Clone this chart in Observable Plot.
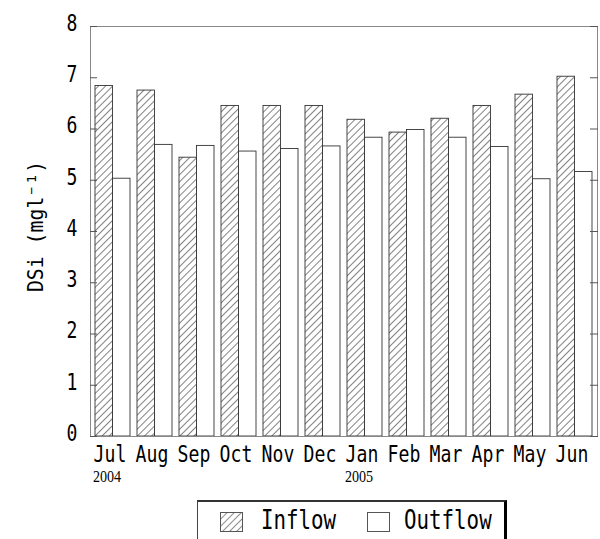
<!DOCTYPE html>
<html><head><meta charset="utf-8">
<script src="https://cdn.jsdelivr.net/npm/d3@7"></script>
<script src="https://cdn.jsdelivr.net/npm/@observablehq/plot@0.6"></script>
<style>
body{margin:0;background:#fff;}
#wrap{position:relative;width:600px;height:539px;overflow:hidden;font-family:"DejaVu Sans Mono",monospace;}
#legend{position:absolute;left:197px;top:500px;width:310px;height:60px;border:1px solid #444;border-top:2px solid #333;border-right:3px solid #000;box-sizing:border-box;background:#fff;}
.sw{position:absolute;top:10px;}
.lt{position:absolute;top:3px;font-size:26px;line-height:30px;color:#000;transform:scaleX(0.8);transform-origin:left center;white-space:pre;}
</style></head>
<body>
<div id="wrap"><div id="chart"></div>
<div id="legend">
 <svg class="sw" style="left:22px" width="23" height="20"><defs><pattern id="lh" patternUnits="userSpaceOnUse" width="5" height="5" patternTransform="rotate(45)"><line x1="0" y1="0" x2="0" y2="5" stroke="#222" stroke-width="1"/></pattern></defs><rect x="0.5" y="0.5" width="22" height="19" fill="url(#lh)" stroke="#555"/></svg>
 <div class="lt" style="left:63px">Inflow</div>
 <svg class="sw" style="left:169px" width="23" height="20"><rect x="0.5" y="0.5" width="22" height="19" fill="#fff" stroke="#555"/></svg>
 <div class="lt" style="left:206px">Outflow</div>
</div>
</div>
<script>
const months = ["Jul","Aug","Sep","Oct","Nov","Dec","Jan","Feb","Mar","Apr","May","Jun"];
const inflow = [6.84,6.75,5.44,6.45,6.45,6.45,6.18,5.93,6.20,6.45,6.67,7.02];
const outflow = [5.03,5.69,5.67,5.56,5.61,5.66,5.83,5.98,5.83,5.65,5.02,5.16];
const yTicks = [0,1,2,3,4,5,6,7,8];
const years = [{month:"Jul", label:"2004"},{month:"Jan", label:"2005"}];
const yLabel = "DSi\u2002(mgl⁻¹)";

const W = 600, H = 492, ML = 90, MR = 3, MT = 26, MB = 56;
const pIn = 0.17, pOut = 0.08;
const step = (W - ML - MR) / (months.length - pIn + 2 * pOut);
const bw = step * (1 - pIn);

const inData = months.map((m,i)=>({month:m, value:inflow[i]}));
const outData = months.map((m,i)=>({month:m, value:outflow[i]}));
const mono = '"DejaVu Sans Mono",monospace';
const serif = '"Liberation Serif","DejaVu Serif",serif';

const chart = Plot.plot({
  width: W, height: H,
  marginLeft: ML, marginRight: MR, marginTop: MT, marginBottom: MB,
  style: {fontFamily: mono, background: "#fff", color: "#000"},
  x: {domain: months, paddingInner: pIn, paddingOuter: pOut, label: null},
  y: {domain: [0, 8], label: null},
  marks: [
    Plot.barY(inData, {x: "month", y: "value", fill: "url(#hatch)", stroke: "#333", strokeWidth: 0.9, insetRight: bw/2}),
    Plot.barY(outData, {x: "month", y: "value", fill: "#fff", stroke: "#333", strokeWidth: 0.9, insetLeft: bw/2}),
    Plot.frame({stroke: "#888", strokeWidth: 1}),
    Plot.axisY({anchor: "left", ticks: yTicks, tickSize: -7, tickFormat: () => "", stroke: "#555", label: null}),
    Plot.axisY({anchor: "right", ticks: yTicks, tickSize: -8, tickFormat: () => "", stroke: "#555", label: null}),
    Plot.axisY({anchor: "left", ticks: yTicks, tickSize: 0, tickPadding: 13, fontSize: 23, dy: -3, label: null}),
    Plot.axisX({anchor: "bottom", tickSize: 0, tickPadding: 9, fontSize: 23, dx: -3, label: null}),
    Plot.text(years, {x: "month", text: "label", frameAnchor: "bottom", dy: 45, dx: -6, fontSize: 16, fontFamily: serif}),
    Plot.text([yLabel], {text: d => d, frameAnchor: "left", textAnchor: "middle", rotate: -90, dx: -55, dy: -5, fontSize: 22})
  ]
});
const ns = "http://www.w3.org/2000/svg";
const defs = document.createElementNS(ns, "defs");
defs.innerHTML = '<pattern id="hatch" patternUnits="userSpaceOnUse" width="5" height="5" patternTransform="rotate(45)"><line x1="0" y1="0" x2="0" y2="5" stroke="#1a1a1a" stroke-width="1.1"/></pattern>';
chart.insertBefore(defs, chart.firstChild);
document.getElementById("chart").appendChild(chart);
// condense glyphs to imitate the narrow gothic face of the original
chart.querySelectorAll("text").forEach(t => {
  const fam = getComputedStyle(t).fontFamily;
  const isLabel = t.textContent === yLabel;
  const f = /Serif/.test(fam) ? 0.88 : (isLabel ? 0.9 : 0.79);
  const len = t.getComputedTextLength();
  if (len > 0) {
    t.setAttribute("textLength", (len * f).toFixed(1));
    t.setAttribute("lengthAdjust", "spacingAndGlyphs");
  }
});
</script>
</body></html>
